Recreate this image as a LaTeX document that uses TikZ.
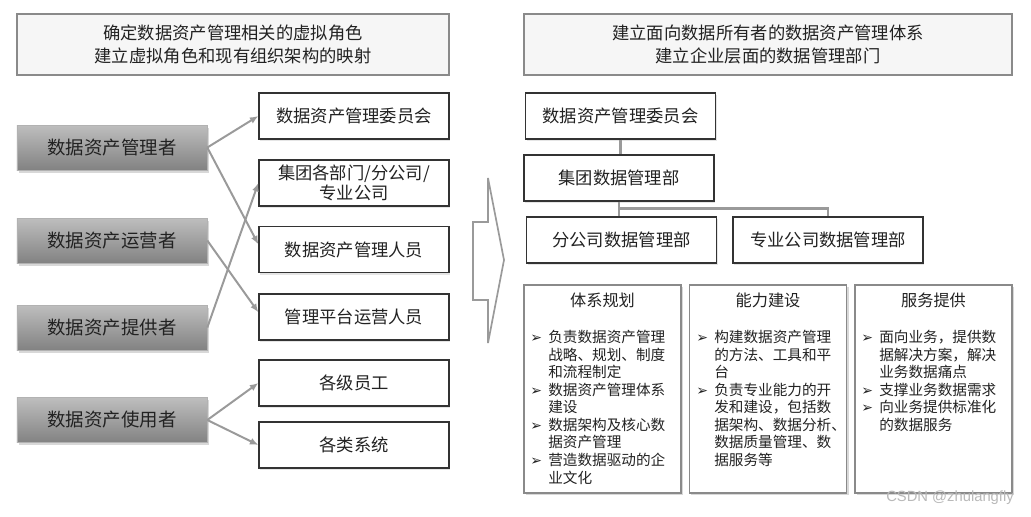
\documentclass[tikz,border=0pt]{standalone}
\usepackage{fontspec}
\setmainfont{Noto Sans CJK SC}
\newfontfamily\symfont{DejaVu Sans}
\newfontfamily\wmfont{Liberation Sans}
\usetikzlibrary{shadows,arrows.meta}
\definecolor{roletop}{HTML}{BEBEBE}
\definecolor{rolebot}{HTML}{828282}
\definecolor{linkgray}{HTML}{9A9A9A}
\definecolor{framegray}{HTML}{8A8A8A}
\definecolor{headfill}{HTML}{F6F6F6}
\definecolor{textgray}{HTML}{222222}
\newcommand{\bul}{{\symfont\fontsize{10}{10}\selectfont ➢}}

\begin{document}
\begin{tikzpicture}[x=0.025cm,y=-0.025cm,text=textgray]
    \tikzstyle{head}=[draw=framegray,line width=1.2pt,fill=headfill,minimum height=1.525cm,align=center,font=\fontsize{12.3}{16.5}\selectfont]
    \tikzstyle{role}=[top color=roletop,bottom color=rolebot,draw=gray!60,line width=0.4pt,minimum width=4.75cm,minimum height=1.125cm,font=\fontsize{13.1}{15}\selectfont,drop shadow={shadow xshift=0.04cm,shadow yshift=-0.07cm,opacity=0.3}]
    \tikzstyle{unit}=[draw=black!80,line width=0.9pt,fill=white,minimum width=4.75cm,minimum height=1.15cm,align=center,font=\fontsize{12.3}{14}\selectfont,drop shadow={shadow xshift=0.03cm,shadow yshift=-0.05cm,opacity=0.2}]
    \tikzstyle{panel}=[draw=framegray,line width=1pt,fill=white,minimum width=3.925cm,minimum height=5.2cm,drop shadow={shadow xshift=0.05cm,shadow yshift=-0.06cm,opacity=0.3}]
    \tikzstyle{ptitle}=[font=\fontsize{11.5}{13}\selectfont]
    \tikzstyle{pbody}=[anchor=north west,inner sep=0pt,font=\fontsize{10.4}{12.3}\selectfont]
    \tikzstyle{link}=[draw=linkgray,line width=1.4pt,-{Latex[length=6pt,width=5pt]}]
    \tikzstyle{orgline}=[draw=linkgray,line width=2pt]

    \path[use as bounding box,fill=white] (0,0) rectangle (1031,516);

    % left half: roles
    \node(lhead) [head,minimum width=10.8cm] at (233,44.5) {确定数据资产管理相关的虚拟角色\\建立虚拟角色和现有组织架构的映射};

    \node(mgr)  [role] at (112,147.5) {数据资产管理者};
    \node(oper) [role] at (112,240.5) {数据资产运营者};
    \node(prov) [role] at (112,327.5) {数据资产提供者};
    \node(user) [role] at (112,420)   {数据资产使用者};

    \node(comm)    [unit] at (354,116)   {数据资产管理委员会};
    \node(depts)   [unit] at (354,183)   {集团各部门/分公司/\\专业公司};
    \node(staff)   [unit] at (354,249.5) {数据资产管理人员};
    \node(opstaff) [unit] at (354,317)   {管理平台运营人员};
    \node(empl)    [unit] at (354,383)   {各级员工};
    \node(sys)     [unit] at (354,445)   {各类系统};

    \draw [link] (mgr.east) -- (comm.west);
    \draw [link] (mgr.east) -- ([yshift=0.13cm]staff.west);
    \draw [link] (oper.east) -- ([yshift=0.12cm]opstaff.west);
    \draw [link] (prov.east) -- (depts.west);
    \draw [link] (user.east) -- (empl.west);
    \draw [link] (user.east) -- (sys.west);

    % big arrow
    \draw [draw=linkgray,line width=1.2pt,fill=white] (473,222) -- (488,222) -- (488,178) -- (504,260) -- (488,343) -- (488,300) -- (473,300) -- cycle;

    % right half: organisation
    \node(rhead) [head,minimum width=12.2cm] at (768,44.5) {建立面向数据所有者的数据资产管理体系\\建立企业层面的数据管理部门};

    \node(ocomm)   [unit] at (620.5,116) {数据资产管理委员会};
    \node(ogroup)  [unit] at (619,178)   {集团数据管理部};
    \node(obranch) [unit] at (621.5,240) {分公司数据管理部};
    \node(opro)    [unit] at (828,240)   {专业公司数据管理部};

    \draw [orgline] (ocomm) -- (ocomm |- ogroup.north);
    \draw [orgline] (ogroup.south) -- (ogroup.south |- obranch.north);
    \draw [orgline] (ogroup.south) -- ++(0,7) -| (opro.north);

    \node(plan)    [panel] at (602.5,389) {};
    \node(build)   [panel] at (768,389)   {};
    \node(service) [panel] at (933.5,389) {};

    \node(plant) [ptitle] at (plan.center |- 0,300)    {体系规划};
    \node(buildt) [ptitle] at (build.center |- 0,300)  {能力建设};
    \node(servt) [ptitle] at (service.center |- 0,300) {服务提供};

    \node(planb) [pbody] at (530,330) {\begin{tabular}{@{}p{0.45cm}@{}l@{}}
        \bul & 负责数据资产管理\\
             & 战略、规划、制度\\
             & 和流程制定\\
        \bul & 数据资产管理体系\\
             & 建设\\
        \bul & 数据架构及核心数\\
             & 据资产管理\\
        \bul & 营造数据驱动的企\\
             & 业文化
        \end{tabular}};
    \node(buildb) [pbody] at (696,330) {\begin{tabular}{@{}p{0.45cm}@{}l@{}}
        \bul & 构建数据资产管理\\
             & 的方法、工具和平\\
             & 台\\
        \bul & 负责专业能力的开\\
             & 发和建设，包括数\\
             & 据架构、数据分析、\\
             & 数据质量管理、数\\
             & 据服务等
        \end{tabular}};
    \node(servb) [pbody] at (861,330) {\begin{tabular}{@{}p{0.45cm}@{}l@{}}
        \bul & 面向业务，提供数\\
             & 据解决方案，解决\\
             & 业务数据痛点\\
        \bul & 支撑业务数据需求\\
        \bul & 向业务提供标准化\\
             & 的数据服务
        \end{tabular}};

    \node(mark) [text=gray!55,font=\wmfont\fontsize{10.5}{12}\selectfont] at (950,498) {CSDN @zhulangfly};
\end{tikzpicture}
\end{document}
